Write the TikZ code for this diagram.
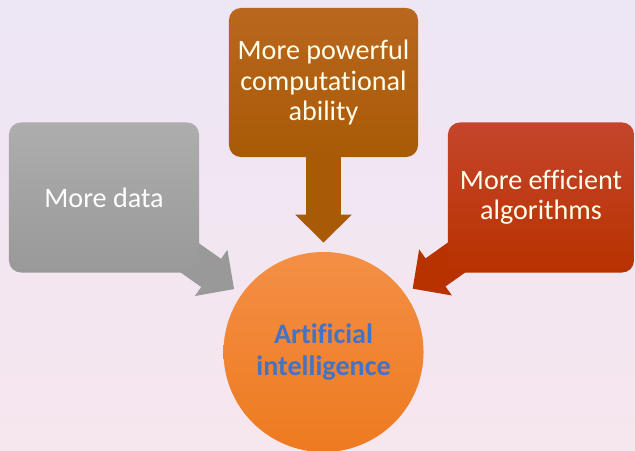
\documentclass[tikz,border=0pt]{standalone}
\usepackage{fontspec}
\setmainfont{Carlito}[Ligatures=NoCommon]
\usetikzlibrary{arrows.meta}
\definecolor{bgTop}{HTML}{EDE6F5}
\definecolor{bgBottom}{HTML}{F6E6EE}
\definecolor{dataGrayTop}{HTML}{ADADAD}
\definecolor{dataGray}{HTML}{999999}
\definecolor{powerBrownTop}{HTML}{B9671E}
\definecolor{powerBrown}{HTML}{A95A06}
\definecolor{algoRedTop}{HTML}{C4452C}
\definecolor{algoRed}{HTML}{B83200}
\definecolor{aiOrangeTop}{HTML}{F38F45}
\definecolor{aiOrange}{HTML}{EE7A20}
\definecolor{aiBlue}{HTML}{4472C4}
\pgfdeclarelayer{backdrop}
\pgfdeclarelayer{links}
\pgfsetlayers{backdrop,links,main}

\begin{document}
\begin{tikzpicture}[x=0.025cm, y=-0.025cm,
    every node/.style={font=\fontsize{20}{21.5}\selectfont, text=white, align=center},
    callout/.style={rounded corners=0.3cm, minimum height=3.75cm, inner sep=0pt},
    bigarrow/.style={line width=24.5pt, -{Triangle[width=39pt,length=20pt]}, shorten >=6.4pt}]
    \useasboundingbox (0,0) rectangle (635,450);
    \begin{pgfonlayer}{backdrop}
        \shade[top color=bgTop, bottom color=bgBottom] (0,0) rectangle (635,450);
    \end{pgfonlayer}
    \node[callout, minimum width=4.75cm, top color=dataGrayTop, bottom color=dataGray] (data) at (104,197.5) {More data};
    \node[callout, minimum width=4.725cm, minimum height=3.725cm, top color=powerBrownTop, bottom color=powerBrown, text=white!92!yellow] (power) at (323.5,82.5) {More powerful\\computational\\ability};
    \node[callout, minimum width=4.65cm, top color=algoRedTop, bottom color=algoRed, text=white!92!yellow] (algo) at (541,197.5) {More efficient\\algorithms};
    \node[circle, minimum size=5cm, inner sep=0pt, top color=aiOrangeTop, bottom color=aiOrange, text=aiBlue, font=\fontsize{20}{22.5}\selectfont\bfseries] (ai) at (323.5,352) {Artificial\\intelligence};
    \begin{pgfonlayer}{links}
        \foreach \src/\col in {data/dataGray, power/powerBrown, algo/algoRed}
            \draw[bigarrow, draw=\col] (\src.center) -- (ai);
    \end{pgfonlayer}
\end{tikzpicture}
\end{document}
